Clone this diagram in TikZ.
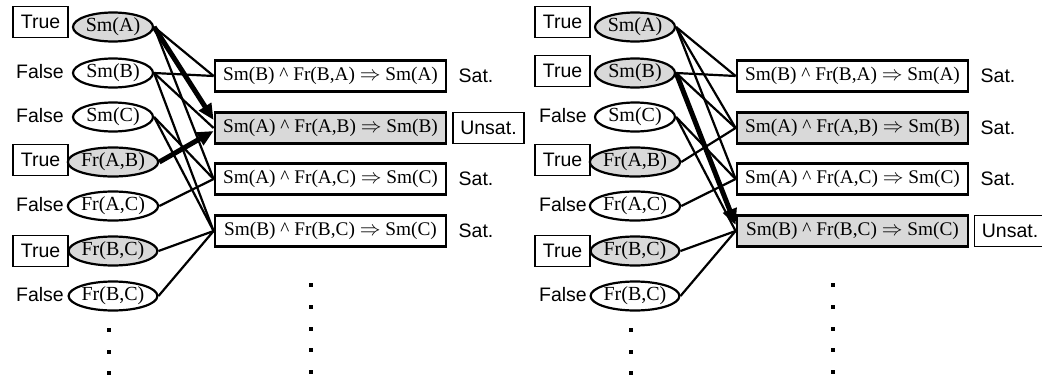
\documentclass[tikz,border=0pt]{standalone}
\usepackage{fontspec}
\setmainfont{Liberation Serif}
\setsansfont{Liberation Sans}
\usepackage{xcolor}
\usepackage{tikz}
\usetikzlibrary{positioning,arrows.meta,shapes.geometric}
\definecolor{groundGray}{HTML}{D9D9D9}
\newcommand{\imp}{\textasciicircum{} }

\begin{document}
\begin{tikzpicture}[
    x=1pt, y=-1pt,
    atom/.style={draw, ellipse, line width=2.2pt, minimum width=80pt, minimum height=29pt, inner sep=0pt, font=\fontsize{20}{21}\selectfont},
    atomT/.style={atom, fill=groundGray},
    clause/.style={draw, line width=2.8pt, minimum width=231pt, minimum height=31pt, inner sep=0pt, font=\fontsize{19.3}{21}\selectfont},
    clauseU/.style={clause, fill=groundGray},
    truebox/.style={draw, line width=1.1pt, minimum width=55pt, minimum height=31pt, inner sep=0pt, font=\sffamily\fontsize{19.5}{21}\selectfont},
    lbl/.style={inner sep=0pt, font=\sffamily\fontsize{19.5}{21}\selectfont},
    unsatbox/.style={truebox, minimum width=71pt},
    dot/.style={fill=black, minimum size=4.5pt, inner sep=0pt},
    wire/.style={line width=2.2pt},
    hot/.style={line width=5pt, -{Triangle[length=16pt,width=14pt]}}
  ]
  \useasboundingbox (0,0) rectangle (1042,381);

  % left world: Sm(B) false
  \node[atomT] (a1) at (113,27)  {Sm(A)};
  \node[atom]  (a2) at (113,73)  {Sm(B)};
  \node[atom]  (a3) at (113,117) {Sm(C)};
  \node[atomT] (a4) at (113,162) {Fr(A,B)};
  \node[atom]  (a5) at (113,206) {Fr(A,C)};
  \node[atomT] (a6) at (113,251) {Fr(B,C)};
  \node[atom]  (a7) at (113,296) {Fr(B,C)};

  \node[truebox] (ta1) at (40.5,22)  {True};
  \node[lbl]     (fa2) at (40,72)    {False};
  \node[lbl]     (fa3) at (40,116)   {False};
  \node[truebox] (ta4) at (40.5,160) {True};
  \node[lbl]     (fa5) at (40,205)   {False};
  \node[truebox] (ta6) at (40.5,251) {True};
  \node[lbl]     (fa7) at (40,295)   {False};

  \node[clause]  (c1) at (330.5,76)  {Sm(B) \imp Fr(B,A) $\Rightarrow$ Sm(A)};
  \node[clauseU] (c2) at (330.5,128) {Sm(A) \imp Fr(A,B) $\Rightarrow$ Sm(B)};
  \node[clause]  (c3) at (330.5,179) {Sm(A) \imp Fr(A,C) $\Rightarrow$ Sm(C)};
  \node[clause]  (c4) at (330.5,231) {Sm(B) \imp Fr(B,C) $\Rightarrow$ Sm(C)};

  \node[lbl]      (s1) at (476,76)   {Sat.};
  \node[unsatbox] (s2) at (488.5,128) {Unsat.};
  \node[lbl]      (s3) at (476,179)  {Sat.};
  \node[lbl]      (s4) at (476,231)  {Sat.};

  \draw[wire] (a1.east) -- (c1.west);
  \draw[wire] (a1.east) -- (c3.west);
  \draw[wire] (a2.east) -- (c1.west);
  \draw[wire] (a2.east) -- (c2.west);
  \draw[wire] (a2.east) -- (c4.west);
  \draw[wire] (a3.east) -- (c3.west);
  \draw[wire] (a3.east) -- (c4.west);
  \draw[wire] (a5.east) -- (c3.west);
  \draw[wire] (a6.east) -- (c4.west);
  \draw[wire] (a7.east) -- (c4.west);
  \draw[hot] (a1.east) -- ([yshift=8pt]c2.west);
  \draw[hot] (a4.east) -- ([yshift=-3pt]c2.west);

  \foreach \y in {330,352,373} \node[dot] at (109,\y) {};
  \foreach \y in {285,307,329,350,372} \node[dot] at (311,\y) {};

  % right world: Sm(B) true
  \node[atomT] (b1) at (635,27)  {Sm(A)};
  \node[atomT] (b2) at (635,73)  {Sm(B)};
  \node[atom]  (b3) at (635,117) {Sm(C)};
  \node[atomT] (b4) at (635,162) {Fr(A,B)};
  \node[atom]  (b5) at (635,206) {Fr(A,C)};
  \node[atomT] (b6) at (635,251) {Fr(B,C)};
  \node[atom]  (b7) at (635,296) {Fr(B,C)};

  \node[truebox] (tb1) at (562.5,22)  {True};
  \node[truebox] (tb2) at (562.5,71)  {True};
  \node[lbl]     (fb3) at (563,116)   {False};
  \node[truebox] (tb4) at (562.5,160) {True};
  \node[lbl]     (fb5) at (563,205)   {False};
  \node[truebox] (tb6) at (562.5,251) {True};
  \node[lbl]     (fb7) at (563,295)   {False};

  \node[clause]  (d1) at (852.5,76)  {Sm(B) \imp Fr(B,A) $\Rightarrow$ Sm(A)};
  \node[clauseU] (d2) at (852.5,128) {Sm(A) \imp Fr(A,B) $\Rightarrow$ Sm(B)};
  \node[clause]  (d3) at (852.5,179) {Sm(A) \imp Fr(A,C) $\Rightarrow$ Sm(C)};
  \node[clauseU] (d4) at (852.5,231) {Sm(B) \imp Fr(B,C) $\Rightarrow$ Sm(C)};

  \node[lbl]      (r1) at (998,76)    {Sat.};
  \node[lbl]      (r2) at (998,128)   {Sat.};
  \node[lbl]      (r3) at (998,179)   {Sat.};
  \node[unsatbox] (r4) at (1010,231)  {Unsat.};

  \draw[wire] (b1.east) -- (d1.west);
  \draw[wire] (b1.east) -- (d2.west);
  \draw[wire] (b1.east) -- (d3.west);
  \draw[wire] (b2.east) -- (d1.west);
  \draw[wire] (b2.east) -- (d2.west);
  \draw[wire] (b3.east) -- (d3.west);
  \draw[wire] (b3.east) -- (d4.west);
  \draw[wire] (b4.east) -- (d2.west);
  \draw[wire] (b5.east) -- (d3.west);
  \draw[wire] (b6.east) -- (d4.west);
  \draw[wire] (b7.east) -- (d4.west);
  \draw[hot] (b2.east) -- ([yshift=6pt]d4.west);

  \foreach \y in {330,352,373} \node[dot] at (631,\y) {};
  \foreach \y in {285,307,329,350,372} \node[dot] at (833,\y) {};
\end{tikzpicture}
\end{document}
